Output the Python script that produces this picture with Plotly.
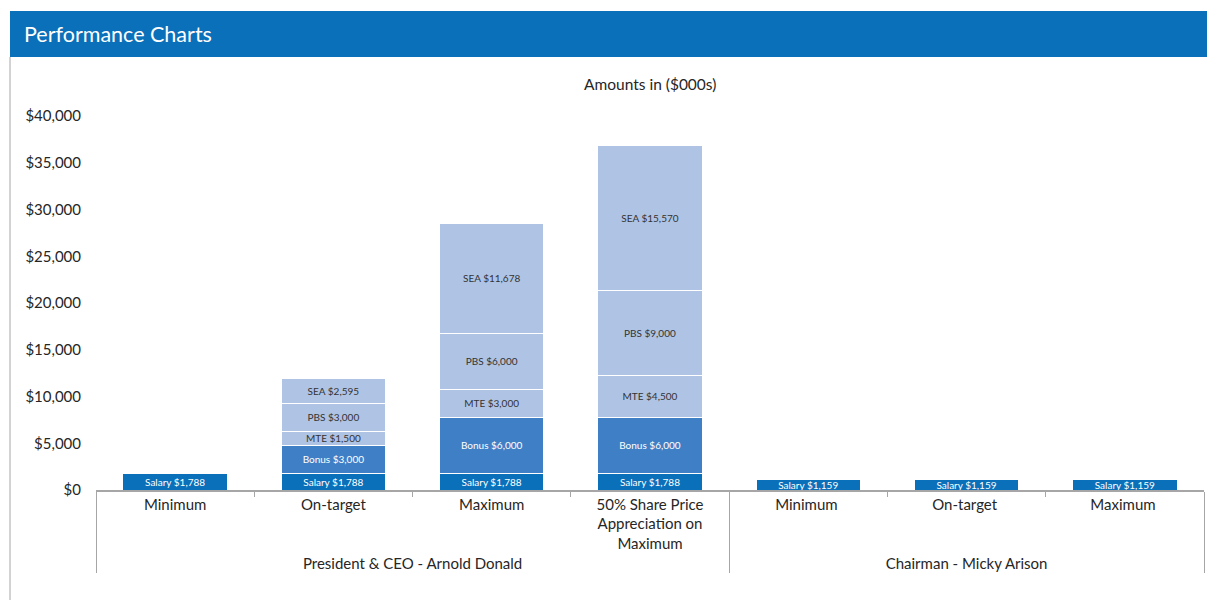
import plotly.graph_objects as go

# ---- data ----
groups = ["President & CEO - Arnold Donald"] * 4 + ["Chairman - Micky Arison"] * 3
scenarios = ["Minimum", "On-target", "Maximum",
             "50% Share Price<br>Appreciation on<br>Maximum",
             "Minimum ", "On-target ", "Maximum "]
salary = [1788, 1788, 1788, 1788, 1159, 1159, 1159]
bonus = [None, 3000, 6000, 6000, None, None, None]
mte = [None, 1500, 3000, 4500, None, None, None]
pbs = [None, 3000, 6000, 9000, None, None, None]
sea = [None, 2595, 11678, 15570, None, None, None]
y_ticks = [0, 5000, 10000, 15000, 20000, 25000, 30000, 35000, 40000]

# ---- layout helpers (page pixel -> paper) ----
W, H = 1207, 600
L, T = 96, 116
PLOT_BOTTOM, PLOT_RIGHT = 490, 1204
R = W - PLOT_RIGHT
B = H - PLOT_BOTTOM
PW, PH = PLOT_RIGHT - L, PLOT_BOTTOM - T
def px(x):
    return (x - L) / PW
def py(y):
    return (PLOT_BOTTOM - y) / PH

FONT = "Lato, 'Open Sans', sans-serif"
series = [
    ("Salary", salary, "#0A70BA", "white"),
    ("Bonus", bonus, "#3F7FC5", "white"),
    ("MTE", mte, "#AFC3E5", "#333333"),
    ("PBS", pbs, "#AFC3E5", "#333333"),
    ("SEA", sea, "#AFC3E5", "#333333"),
]

fig = go.Figure()
xcat = [groups, scenarios]
for name, vals, color, tcolor in series:
    texts = [f"{name} ${v:,.0f}" if v else "" for v in vals]
    fig.add_trace(go.Bar(
        x=xcat, y=vals, name=name, text=texts,
        textposition="inside", insidetextanchor="middle",
        textangle=0,
        textfont=dict(size=10, color=tcolor, family=FONT),
        marker=dict(color=color, line=dict(color="white", width=1)),
        hoverinfo="skip", showlegend=False,
    ))

fig.update_layout(
    barmode="stack", bargap=0.34,
    width=W, height=H,
    margin=dict(l=L, r=R, t=T, b=B),
    paper_bgcolor="white", plot_bgcolor="white",
    font=dict(family=FONT, size=15, color="#262626"),
    uniformtext=dict(minsize=10, mode="show"),
    xaxis=dict(
        type="multicategory",
        showline=True, linecolor="#A6A6A6", linewidth=1.5,
        ticks="outside", tickson="boundaries", ticklen=5, tickcolor="#A6A6A6",
        showdividers=True, dividercolor="#A6A6A6", dividerwidth=1,
        tickfont=dict(size=15, color="#262626"),
        showgrid=False,
    ),
    yaxis=dict(
        range=[0, 40000], tickvals=y_ticks,
        ticktext=[f"${v:,}" for v in y_ticks],
        showgrid=False, zeroline=False, showline=False,
        tickfont=dict(size=15, color="#262626"),
        ticks="", ticklabelstandoff=14,
    ),
    shapes=[
        dict(type="rect", xref="paper", yref="paper",
             x0=px(10), x1=px(1220), y0=py(57), y1=py(11),
             fillcolor="#0A70BA", line=dict(width=0), layer="above"),
        dict(type="line", xref="paper", yref="paper",
             x0=px(10), x1=px(10), y0=py(57), y1=py(610),
             line=dict(color="#A6A6A6", width=1)),
    ],
    annotations=[
        dict(text="Performance Charts", xref="paper", yref="paper",
             x=px(22), y=py(34), xanchor="left", yanchor="middle",
             showarrow=False, font=dict(size=21.5, color="white", family=FONT)),
        dict(text="Amounts in ($000s)", xref="paper", yref="paper",
             x=px(650), y=py(84), xanchor="center", yanchor="middle",
             showarrow=False, font=dict(size=15.5, color="#262626", family=FONT)),
    ],
)

fig.write_html(
    "out.html",
    config={"displayModeBar": False},
    post_script="document.body.style.margin='0';document.body.style.overflow='hidden';",
)
